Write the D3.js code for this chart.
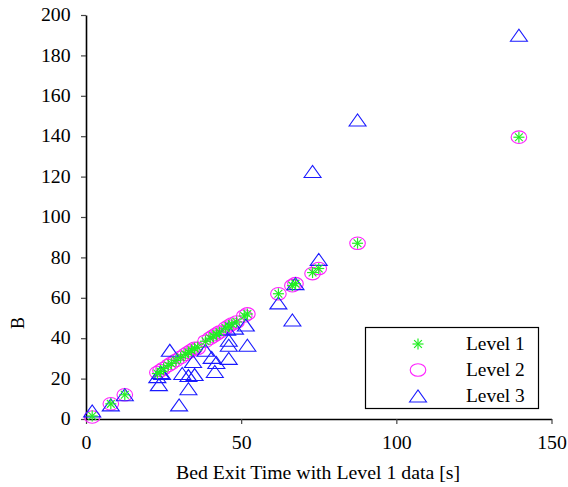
<!DOCTYPE html>
<html>
<head>
<meta charset="utf-8">
<script src="https://cdn.jsdelivr.net/npm/d3@7"></script>
<style>
  body { margin: 0; background: #fff; }
</style>
</head>
<body>
<div id="wrapper"></div>
<script>
// data
const level1X = [2, 8, 12.5, 23, 24, 25, 26.5, 27.5, 29, 30.5, 32, 33, 34, 35, 36, 38.5, 40, 41, 42, 43, 45, 46, 47, 48.5, 51, 52, 62, 66.5, 67.5, 73, 75, 87.5, 139.5];
const level1Y = [1.5, 7.5, 12, 22.5, 23.5, 25, 26.5, 27.5, 29, 30.5, 32, 33, 34, 35, 35.5, 38.5, 40, 41, 42, 43, 45, 46, 47, 48, 51, 52, 62, 66, 67, 72.5, 74.5, 87, 139.5];
const level2Y = [1, 7.5, 12, 23, 24, 25, 26.5, 27.5, 29, 30.5, 32, 33, 34, 35, 35, 38.5, 40, 41, 42, 43, 45, 46, 47, 48, 51, 52, 62, 66, 67, 72, 74.5, 87, 139.5];

const level3X = [2, 8, 12.5, 23, 23.5, 24, 24.5, 27, 30, 31, 33, 33, 34.5, 35, 38.5, 40.5, 42, 41.5, 46, 46, 46, 45.5, 48, 51.5, 52, 62, 66.5, 67.5, 75, 73, 87.5, 139.5];
const level3Y = [4, 7, 12, 21, 17, 23, 22.5, 34, 7, 22.5, 21.5, 15, 28.5, 22, 34, 30.5, 28, 23.5, 30, 36.5, 39, 44.5, 45, 46.5, 36.5, 57.5, 49, 67, 79, 122.5, 148, 190];

const xTicks = [0, 50, 100, 150];
const yTicks = [0, 20, 40, 60, 80, 100, 120, 140, 160, 180, 200];
const legendLabels = ["Level 1", "Level 2", "Level 3"];

const serif = "Liberation Serif, Times New Roman, serif";
const width = 568, height = 487;
const svg = d3.select("#wrapper").append("svg")
    .attr("width", width)
    .attr("height", height)
    .attr("font-family", serif);

const xScale = d3.scaleLinear().domain([0, 150]).range([86, 551.5]);
const yScale = d3.scaleLinear().domain([0, 200]).range([419, 15]);

// axes
const xAxis = svg.append("g")
    .attr("transform", `translate(0, ${yScale(0)})`)
    .call(d3.axisBottom(xScale).tickValues(xTicks).tickSize(5).tickSizeOuter(0).tickPadding(12));
const yAxis = svg.append("g")
    .attr("transform", `translate(${xScale(0)}, 0)`)
    .call(d3.axisLeft(yScale).tickValues(yTicks).tickSize(5).tickSizeOuter(0).tickPadding(9));
[xAxis, yAxis].forEach(ax => {
    ax.attr("font-family", serif).attr("font-size", 18);
    ax.select(".domain").attr("stroke", "#000").attr("stroke-width", 1.6);
    ax.selectAll(".tick line").attr("stroke", "#444").attr("stroke-width", 1.2);
    ax.selectAll(".tick text")
        .attr("fill", "#000")
        .attr("transform", "scale(1.1,1)");
});

svg.append("text")
    .attr("transform", "translate(318, 479) scale(1.1,1)")
    .attr("text-anchor", "middle")
    .attr("font-size", 18)
    .text("Bed Exit Time with Level 1 data [s]");
svg.append("text")
    .attr("transform", "translate(24, 323) rotate(-90)")
    .attr("text-anchor", "middle")
    .attr("font-size", 18)
    .text("B");

// marker shapes
const triPath = "M-8.5,6L0,-6L8.5,6Z";
function drawStar(g) {
    [0, 45, 90, 135].forEach(a => {
        const r = 5.5, t = a * Math.PI / 180;
        g.append("line")
            .attr("x1", -r * Math.cos(t)).attr("y1", -r * Math.sin(t))
            .attr("x2", r * Math.cos(t)).attr("y2", r * Math.sin(t))
            .attr("stroke", "#22ee22").attr("stroke-width", 1.2);
    });
}

const l2 = svg.append("g");
level1X.forEach((x, i) => {
    l2.append("ellipse")
        .attr("cx", xScale(x)).attr("cy", yScale(level2Y[i]))
        .attr("rx", 7.8).attr("ry", 6.3)
        .attr("fill", "none").attr("stroke", "#ff22ff").attr("stroke-width", 1.1);
});
const l3 = svg.append("g");
level3X.forEach((x, i) => {
    l3.append("path")
        .attr("transform", `translate(${xScale(x)}, ${yScale(level3Y[i])})`)
        .attr("d", triPath)
        .attr("fill", "none").attr("stroke", "#1a1aff").attr("stroke-width", 1.1);
});
const l1 = svg.append("g");
level1X.forEach((x, i) => {
    const g = l1.append("g").attr("transform", `translate(${xScale(x)}, ${yScale(level1Y[i])})`);
    drawStar(g);
});

// legend
const legend = svg.append("g");
legend.append("rect")
    .attr("x", 365.5).attr("y", 327.5).attr("width", 173).attr("height", 81)
    .attr("fill", "#fff").attr("stroke", "#000").attr("stroke-width", 1.2);
const rowY = [344, 370, 396];
legendLabels.forEach((lab, i) => {
    const g = legend.append("g").attr("transform", `translate(418, ${rowY[i]})`);
    if (i === 0) drawStar(g);
    if (i === 1) g.append("ellipse").attr("rx", 7.8).attr("ry", 6.3)
        .attr("fill", "none").attr("stroke", "#ff22ff").attr("stroke-width", 1.1);
    if (i === 2) g.append("path").attr("d", triPath)
        .attr("fill", "none").attr("stroke", "#1a1aff").attr("stroke-width", 1.1);
    legend.append("text")
        .attr("transform", `translate(466, ${rowY[i]}) scale(1.08,1)`)
        .attr("dy", "0.35em")
        .attr("font-size", 18)
        .text(lab);
});
</script>
</body>
</html>
